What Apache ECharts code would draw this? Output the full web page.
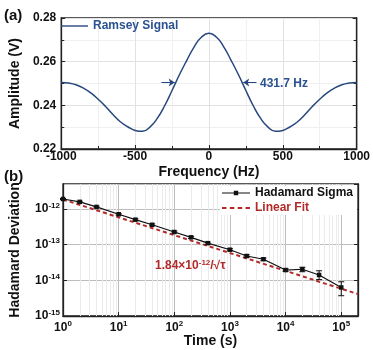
<!DOCTYPE html>
<html>
<head>
<meta charset="utf-8">
<script src="https://cdn.jsdelivr.net/npm/echarts@6/dist/echarts.min.js"></script>
<style>
html, body { margin: 0; padding: 0; background: #fff; }
#main { width: 373px; height: 350px; }
</style>
</head>
<body>
<div id="main"></div>
<script>
// (a) Ramsey signal, every 50 Hz
var freq = [-1000, -950, -900, -850, -800, -750, -700, -650, -600, -550, -500, -450, -400, -350, -300, -250, -200, -150, -100, -50,
  0, 50, 100, 150, 200, 250, 300, 350, 400, 450, 500, 550, 600, 650, 700, 750, 800, 850, 900, 950, 1000];
var amp = [0.2505, 0.2502, 0.2494, 0.2479, 0.2457, 0.2428, 0.2395, 0.2358, 0.2325, 0.2302, 0.2285, 0.2281, 0.2300, 0.2340, 0.2398, 0.2468, 0.2540, 0.2606, 0.2668, 0.2713,
  0.2730, 0.2713, 0.2668, 0.2606, 0.2540, 0.2468, 0.2398, 0.2340, 0.2300, 0.2281, 0.2285, 0.2302, 0.2325, 0.2358, 0.2395, 0.2428, 0.2457, 0.2479, 0.2494, 0.2502, 0.2505];
var fwhmLeft = [-322, -232];   // arrow tail, head (Hz)
var fwhmRight = [322, 232];
var fwhmLevel = 0.2505;

// (b) Hadamard deviation
var tau = [1, 2, 4, 10, 20, 40, 100, 200, 400, 1000, 2000, 4000, 10000, 20000, 40000, 100000];
var sigma = [1.9e-12, 1.58e-12, 1.14e-12, 7.1e-13, 5.0e-13, 3.6e-13, 2.26e-13, 1.6e-13, 1.1e-13, 7.2e-14, 4.8e-14, 3.9e-14, 1.94e-14, 2.04e-14, 1.41e-14, 6.3e-15];
var sigmaLo = [1.84e-12, 1.52e-12, 1.08e-12, 6.7e-13, 4.7e-13, 3.4e-13, 2.12e-13, 1.49e-13, 1.02e-13, 6.7e-14, 4.4e-14, 3.6e-14, 1.78e-14, 1.74e-14, 1.05e-14, 3.7e-15];
var sigmaHi = [1.96e-12, 1.64e-12, 1.20e-12, 7.5e-13, 5.3e-13, 3.8e-13, 2.40e-13, 1.71e-13, 1.18e-13, 7.7e-14, 5.2e-14, 4.2e-14, 2.10e-14, 2.33e-14, 1.85e-14, 9.1e-15];
var fitTau = [1, 200000];
var fitSigma = [1.84e-12, 4.11e-15];

var navy = '#27477f';
var red = '#b22a2a';
var font = 'Liberation Sans, Arial, sans-serif';

var pairs = function (xs, ys) { return xs.map(function (x, i) { return [x, ys[i]]; }); };
var supLabel = function (v) {
  var e = Math.round(Math.log(v) / Math.LN10);
  return '{b|10}{s|' + e + '}';
};
var supRich = {
  b: { fontSize: 12, fontWeight: 'bold', fontFamily: font, color: '#111' },
  s: { fontSize: 8, fontWeight: 'bold', fontFamily: font, color: '#111', padding: [0, 0, 7, 0] }
};

// legend icons drawn as paths (line, line + square, dashes)
var iconLine = 'path://M0,6.3H27V7.7H0Z';
var iconSigma = 'path://M0,6.4H28V7.6H0Z M11.8,4.8H16.2V9.2H11.8Z';
var iconFit = 'path://M0,6H4V8H0Z M7,6H11V8H7Z M14,6H18V8H14Z M21,6H25V8H21Z';

// minor grid lines for the log panel
var minorLines = [];
[1, 10, 100, 1000, 10000, 100000].forEach(function (d) {
  for (var k = 2; k <= 9; k++) if (d * k < 200000) minorLines.push({ xAxis: d * k });
});
[1e-15, 1e-14, 1e-13, 1e-12].forEach(function (d) {
  for (var k = 2; k <= 9; k++) if (d * k < 5e-12) minorLines.push({ yAxis: d * k });
});

var axisLine = { show: true, onZero: false, lineStyle: { color: '#222', width: 1.3 } };
var nameStyle = { fontSize: 14, fontWeight: 'bold', fontFamily: font, color: '#111' };
var labelStyle = { fontSize: 12, fontWeight: 'bold', fontFamily: font, color: '#111' };

var chart = echarts.init(document.getElementById('main'));
chart.setOption({
  animation: false,
  grid: [
    { left: 58, right: 15, top: 18, height: 131, show: true, borderColor: '#222', borderWidth: 1.3 },
    { left: 58, right: 15, top: 184, height: 132, show: true, borderColor: '#222', borderWidth: 1.3 }
  ],
  legend: [
    {
      data: [{ name: 'Ramsey Signal', icon: iconLine }], left: 61, top: 20, padding: 0,
      itemWidth: 27, itemHeight: 14, itemGap: 4,
      textStyle: { fontSize: 12, fontWeight: 'bold', fontFamily: font, color: '#2a5190' }
    },
    {
      data: [
        { name: 'Hadamard Sigma', icon: iconSigma, textStyle: { color: '#111' } },
        { name: 'Linear Fit', icon: iconFit, textStyle: { color: red } }
      ],
      orient: 'vertical', left: 220, top: 186, padding: [1, 4, 1, 2], backgroundColor: '#fff', z: 8,
      itemWidth: 28, itemHeight: 14, itemGap: 3,
      textStyle: { fontSize: 12, fontWeight: 'bold', fontFamily: font }
    }
  ],
  xAxis: [
    {
      gridIndex: 0, type: 'value', min: -1000, max: 1000, interval: 500,
      name: 'Frequency (Hz)', nameLocation: 'middle', nameGap: 16, nameTextStyle: nameStyle,
      axisLine: axisLine,
      axisTick: { inside: true, length: 4, lineStyle: { color: '#222' } },
      minorTick: { show: true, splitNumber: 2, length: 3, lineStyle: { color: '#222' } },
      axisLabel: Object.assign({ margin: 2, formatter: function (v) { return String(v); } }, labelStyle),
      splitLine: { show: true, lineStyle: { color: '#e2e2e2' } },
      minorSplitLine: { show: true, lineStyle: { color: '#f0f0f0' } }
    },
    {
      gridIndex: 1, type: 'log', logBase: 10, min: 1, max: 200000,
      name: 'Time (s)', nameLocation: 'middle', nameGap: 18, nameTextStyle: nameStyle,
      axisLine: axisLine,
      axisTick: { inside: true, length: 4, lineStyle: { color: '#222' } },
      axisLabel: { margin: 4, showMaxLabel: false, formatter: supLabel, rich: supRich },
      splitLine: { show: true, lineStyle: { color: '#bdbdbd' } }
    }
  ],
  yAxis: [
    {
      gridIndex: 0, type: 'value', min: 0.22, max: 0.28, interval: 0.02,
      name: 'Amplitude (V)', nameLocation: 'middle', nameGap: 37, nameTextStyle: nameStyle,
      axisLine: axisLine,
      axisTick: { inside: true, length: 4, lineStyle: { color: '#222' } },
      minorTick: { show: true, splitNumber: 2, length: 3, lineStyle: { color: '#222' } },
      axisLabel: Object.assign({ margin: 5, formatter: function (v) { return v.toFixed(2); } }, labelStyle),
      splitLine: { show: true, lineStyle: { color: '#e2e2e2' } },
      minorSplitLine: { show: true, lineStyle: { color: '#f0f0f0' } }
    },
    {
      gridIndex: 1, type: 'log', logBase: 10, min: 1e-15, max: 5e-12,
      name: 'Hadamard Deviation', nameLocation: 'middle', nameGap: 41, nameTextStyle: nameStyle,
      axisLine: axisLine,
      axisTick: { inside: true, length: 4, lineStyle: { color: '#222' } },
      axisLabel: { margin: 3, showMaxLabel: false, formatter: supLabel, rich: supRich },
      splitLine: { show: true, lineStyle: { color: '#bdbdbd' } }
    },
    {
      gridIndex: 0, type: 'value', position: 'right', min: 0.22, max: 0.28, interval: 0.02,
      axisLine: axisLine, axisLabel: { show: false }, splitLine: { show: false },
      axisTick: { inside: true, length: 4, lineStyle: { color: '#222' } },
      minorTick: { show: true, splitNumber: 2, length: 3, lineStyle: { color: '#222' } }
    },
    {
      gridIndex: 1, type: 'log', logBase: 10, position: 'right', min: 1e-15, max: 5e-12,
      axisLine: axisLine, axisLabel: { show: false }, splitLine: { show: false },
      axisTick: { inside: true, length: 4, lineStyle: { color: '#222' } }
    }
  ],
  series: [
    {
      name: 'Ramsey Signal', type: 'line', xAxisIndex: 0, yAxisIndex: 0, z: 3,
      data: pairs(freq, amp), smooth: true, symbol: 'none',
      lineStyle: { color: navy, width: 1.5 }, itemStyle: { color: navy },
      markLine: {
        silent: true, symbol: ['none', 'arrow'], symbolSize: 6,
        label: { show: false },
        lineStyle: { color: navy, width: 1, type: 'solid' },
        data: [
          [{ coord: [fwhmLeft[0], fwhmLevel] }, { coord: [fwhmLeft[1], fwhmLevel] }],
          [{ coord: [fwhmRight[0], fwhmLevel] }, { coord: [fwhmRight[1], fwhmLevel] }]
        ]
      }
    },
    {
      name: 'minor grid', type: 'line', xAxisIndex: 1, yAxisIndex: 1, z: 1, silent: true,
      data: pairs(fitTau, fitSigma), symbol: 'none', lineStyle: { opacity: 0 },
      markLine: {
        silent: true, z: 1, symbol: 'none', label: { show: false },
        lineStyle: { color: '#ebebeb', width: 1, type: 'solid' },
        data: minorLines
      }
    },
    {
      name: 'Linear Fit', type: 'line', xAxisIndex: 1, yAxisIndex: 1, z: 3,
      data: pairs(fitTau, fitSigma), symbol: 'none',
      lineStyle: { color: red, width: 2, type: [4, 3] }, itemStyle: { color: red }
    },
    {
      name: 'Hadamard Sigma', type: 'line', xAxisIndex: 1, yAxisIndex: 1, z: 4,
      data: pairs(tau, sigma), symbol: 'rect', symbolSize: 4.5,
      lineStyle: { color: '#111', width: 1.2 }, itemStyle: { color: '#111' }
    },
    {
      name: 'error', type: 'custom', xAxisIndex: 1, yAxisIndex: 1, z: 4, silent: true,
      data: tau.map(function (t, i) { return [t, sigmaLo[i], sigmaHi[i]]; }),
      encode: { x: 0, y: [1, 2] },
      renderItem: function (params, api) {
        var p1 = api.coord([api.value(0), api.value(1)]);
        var p2 = api.coord([api.value(0), api.value(2)]);
        var w = 3;
        var st = { stroke: '#111', lineWidth: 1 };
        return {
          type: 'group',
          children: [
            { type: 'line', shape: { x1: p1[0], y1: p1[1], x2: p2[0], y2: p2[1] }, style: st },
            { type: 'line', shape: { x1: p1[0] - w, y1: p1[1], x2: p1[0] + w, y2: p1[1] }, style: st },
            { type: 'line', shape: { x1: p2[0] - w, y1: p2[1], x2: p2[0] + w, y2: p2[1] }, style: st }
          ]
        };
      }
    }
  ],
  graphic: [
    { type: 'text', x: 4, y: 16, style: { text: '(a)', font: 'bold 15px ' + font, fill: '#111', verticalAlign: 'middle' } },
    { type: 'text', x: 4, y: 177, style: { text: '(b)', font: 'bold 15px ' + font, fill: '#111', verticalAlign: 'middle' } },
    { type: 'text', x: 260, y: 84, z: 10, style: { text: '431.7 Hz', font: 'bold 12px ' + font, fill: '#2a5190', align: 'left', verticalAlign: 'middle' } },
    {
      type: 'text', x: 155, y: 266, z: 10,
      style: {
        text: '{t|1.84×10}{s|-12}{t|/√τ}', align: 'left', verticalAlign: 'middle',
        rich: {
          t: { fontSize: 12, fontWeight: 'bold', fontFamily: font, fill: red },
          s: { fontSize: 8, fontWeight: 'bold', fontFamily: font, fill: red, padding: [0, 0, 7, 0] }
        }
      }
    }
  ]
});
</script>
</body>
</html>
